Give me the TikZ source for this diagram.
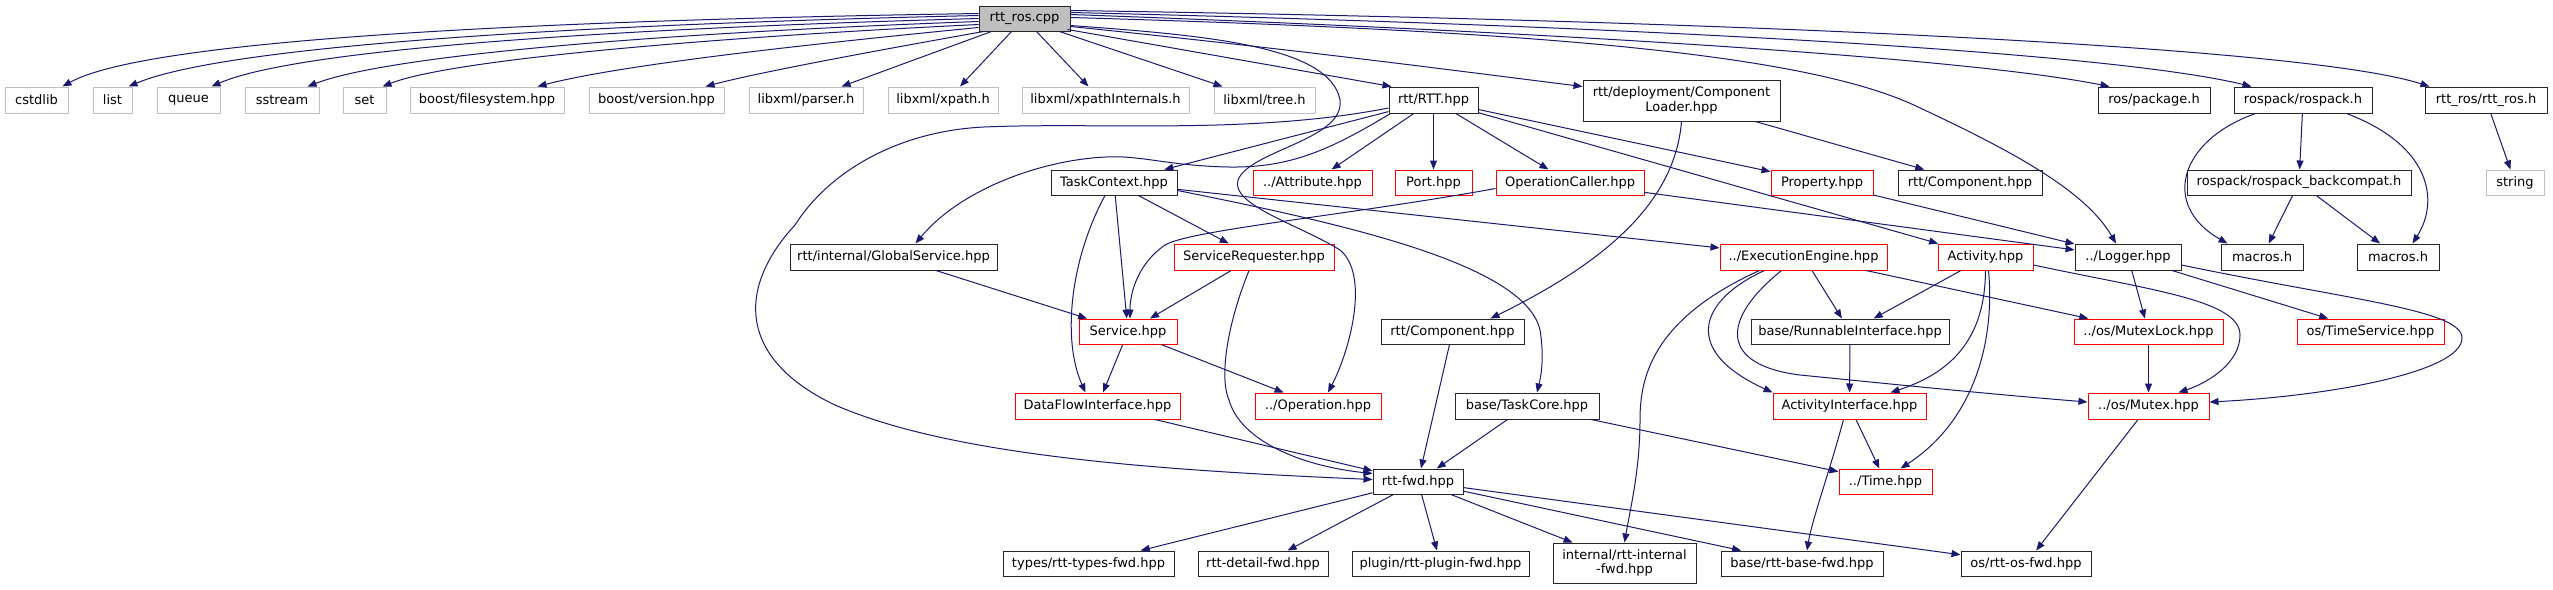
\documentclass[tikz,border=0pt]{standalone}
\usepackage{fontspec}
\setmainfont{DejaVu Sans}
\usetikzlibrary{arrows.meta,calc}
\definecolor{edgeblue}{HTML}{191970}
\definecolor{extgray}{HTML}{BFBFBF}
\definecolor{rootfill}{HTML}{BFBFBF}
\definecolor{truncred}{HTML}{FF0000}
\definecolor{docborder}{HTML}{262626}
\newcommand\mknode[7]{\node[#1, minimum width={#4-#3}, minimum height={#6-#5}] (#2) at ({(#3+#4)/2},{(#5+#6)/2}) {#7};}
\begin{document}
\begin{tikzpicture}[x=1pt,y=-1pt,
  basenode/.style={rectangle, inner sep=0pt, line width=1pt, fill=white, font=\fontsize{13}{14.3}\selectfont, align=center},
  gnode/.style={basenode, draw=extgray},
  rnode/.style={basenode, draw=truncred},
  knode/.style={basenode, draw=docborder},
  rootnode/.style={basenode, draw=docborder, fill=rootfill},
  e/.style={draw=edgeblue, line width=1pt, -{Triangle[length=9pt,width=7pt]}}]
\fill[white] (0,0) rectangle (2553,589);
\useasboundingbox (0,0) rectangle (2553,589);
% row 0
\mknode{rootnode}{root}{979}{1070}{6}{31}{rtt\_ros.cpp}
% row 1
\mknode{gnode}{cstdlib}{5}{68}{87}{113}{cstdlib}
\mknode{gnode}{list}{93}{132}{87}{113}{list}
\mknode{gnode}{queue}{157}{220}{87}{113}{queue}
\mknode{gnode}{sstream}{245}{319}{87}{113}{sstream}
\mknode{gnode}{set}{343}{386}{87}{113}{set}
\mknode{gnode}{bfs}{410}{564}{87}{113}{boost/filesystem.hpp}
\mknode{gnode}{bver}{589}{724}{87}{113}{boost/version.hpp}
\mknode{gnode}{parser}{749}{863}{87}{113}{libxml/parser.h}
\mknode{gnode}{xpath}{888}{998}{87}{113}{libxml/xpath.h}
\mknode{gnode}{xpathi}{1022}{1189}{87}{113}{libxml/xpathInternals.h}
\mknode{gnode}{tree}{1214}{1315}{87}{113}{libxml/tree.h}
\mknode{knode}{rtt}{1389}{1478}{87}{113}{rtt/RTT.hpp}
\mknode{knode}{loader}{1583}{1780}{80}{121}{rtt/deployment/Component\\Loader.hpp}
\mknode{knode}{pkg}{2098}{2210}{87}{113}{ros/package.h}
\mknode{knode}{rospack}{2234}{2372}{87}{113}{rospack/rospack.h}
\mknode{knode}{rttrosh}{2425}{2547}{87}{113}{rtt\_ros/rtt\_ros.h}
% row 2
\mknode{knode}{tc}{1051}{1177}{170}{195}{TaskContext.hpp}
\mknode{rnode}{attr}{1253}{1372}{170}{195}{../Attribute.hpp}
\mknode{rnode}{port}{1395}{1472}{170}{195}{Port.hpp}
\mknode{rnode}{opc}{1496}{1644}{170}{195}{OperationCaller.hpp}
\mknode{rnode}{prop}{1771}{1873}{170}{195}{Property.hpp}
\mknode{knode}{comp1}{1898}{2042}{170}{195}{rtt/Component.hpp}
\mknode{knode}{backcompat}{2187}{2411}{170}{195}{rospack/rospack\_backcompat.h}
\mknode{gnode}{string}{2486}{2544}{170}{195}{string}
% row 3
\mknode{knode}{gs}{790}{997}{244}{270}{rtt/internal/GlobalService.hpp}
\mknode{rnode}{sreq}{1174}{1334}{244}{270}{ServiceRequester.hpp}
\mknode{rnode}{ee}{1720}{1887}{244}{270}{../ExecutionEngine.hpp}
\mknode{rnode}{act}{1938}{2033}{244}{270}{Activity.hpp}
\mknode{knode}{logger}{2075}{2181}{244}{270}{../Logger.hpp}
\mknode{knode}{macros1}{2221}{2303}{244}{270}{macros.h}
\mknode{knode}{macros2}{2357}{2439}{244}{270}{macros.h}
% row 4
\mknode{rnode}{svc}{1079}{1177}{319}{344}{Service.hpp}
\mknode{knode}{comp2}{1381}{1524}{319}{344}{rtt/Component.hpp}
\mknode{knode}{runnable}{1751}{1949}{319}{344}{base/RunnableInterface.hpp}
\mknode{rnode}{mlock}{2074}{2223}{319}{344}{../os/MutexLock.hpp}
\mknode{rnode}{tsvc}{2297}{2444}{319}{344}{os/TimeService.hpp}
% row 5
\mknode{rnode}{dfi}{1015}{1180}{393}{419}{DataFlowInterface.hpp}
\mknode{rnode}{op}{1255}{1381}{393}{419}{../Operation.hpp}
\mknode{knode}{taskcore}{1455}{1599}{393}{419}{base/TaskCore.hpp}
\mknode{rnode}{ai}{1773}{1926}{393}{419}{ActivityInterface.hpp}
\mknode{rnode}{mutex}{2088}{2209}{393}{419}{../os/Mutex.hpp}
% row 6
\mknode{knode}{fwd}{1373}{1463}{469}{494}{rtt-fwd.hpp}
\mknode{rnode}{time}{1839}{1932}{469}{494}{../Time.hpp}
% row 7
\mknode{knode}{types}{1003}{1174}{551}{576}{types/rtt-types-fwd.hpp}
\mknode{knode}{detail}{1198}{1328}{551}{576}{rtt-detail-fwd.hpp}
\mknode{knode}{plugin}{1352}{1529}{551}{576}{plugin/rtt-plugin-fwd.hpp}
\mknode{knode}{internal}{1553}{1696}{543}{583}{internal/rtt-internal\\-fwd.hpp}
\mknode{knode}{basefwd}{1721}{1883}{551}{576}{base/rtt-base-fwd.hpp}
\mknode{knode}{osfwd}{1961}{2091}{551}{576}{os/rtt-os-fwd.hpp}

% ---- edges from rtt_ros.cpp, left fan
\draw[e] ($(root.west)+(0,-5)$) .. controls (560,20) and (150,38) .. ($(cstdlib.north east)+(-6,0)$);
\draw[e] ($(root.west)+(0,-3)$) .. controls (600,24) and (230,44) .. ($(list.north east)+(-4,0)$);
\draw[e] ($(root.west)+(0,0)$) .. controls (630,28) and (300,48) .. ($(queue.north east)+(-9,0)$);
\draw[e] ($(root.west)+(0,3)$) .. controls (660,33) and (390,55) .. ($(sstream.north east)+(-12,0)$);
\draw[e] ($(root.west)+(0,6)$) .. controls (700,38) and (450,60) .. ($(set.north east)+(-4,0)$);
\draw[e] ($(root.west)+(0,9)$) .. controls (800,45) and (620,65) .. ($(bfs.north east)+(-27,0)$);
\draw[e] ($(root.south west)+(5,0)$) .. controls (880,50) and (760,72) .. ($(bver.north east)+(-19,0)$);
\draw[e] ($(root.south west)+(13,0)$) -- ($(parser.north east)+(-22,0)$);
\draw[e] ($(root.south west)+(33,0)$) -- ($(xpath.north)+(17,0)$);
\draw[e] ($(root.south)+(12,0)$) -- ($(xpathi.north)+(-17,0)$);
\draw[e] ($(root.south east)+(-11,0)$) -- ($(tree.north west)+(9,0)$);
\draw[e] ($(root.south east)+(-3,-2)$) -- ($(rtt.north west)+(3,0)$);
% right fan
\draw[e] ($(root.east)+(0,8)$) .. controls (1300,50) and (1450,70) .. ($(loader.west)+(0,-14)$);
\draw[e] ($(root.east)+(0,-4)$) .. controls (1500,30) and (1950,55) .. ($(pkg.north west)+(12,0)$);
\draw[e] ($(root.east)+(0,-6)$) .. controls (1600,25) and (2100,50) .. ($(rospack.north west)+(18,0)$);
\draw[e] ($(root.east)+(0,-8)$) .. controls (1700,20) and (2300,45) .. ($(rttrosh.north west)+(5,0)$);
\draw[e] ($(root.east)+(0,-1)$) .. controls (1500,30) and (1800,50) .. (1918,107) .. controls (2010,150) and (2085,190) .. ($(logger.north)+(-12,0)$);
\draw[e] ($(root.east)+(0,7)$) .. controls (1200,35) and (1330,45) .. (1340,100) .. controls (1345,140) and (1250,150) .. (1238,180) .. controls (1230,205) and (1300,225) .. (1340,250) .. controls (1370,275) and (1350,350) .. ($(op.north)+(10,0)$);

% ---- RTT.hpp
\draw[e] (rtt) -- (tc);
\draw[e] (rtt) -- (attr);
\draw[e] (rtt) -- (port);
\draw[e] (rtt) -- (opc);
\draw[e] (rtt) -- (prop);
\draw[e] (rtt) -- (act);
\draw[e] ($(rtt.south west)+(2,0)$) .. controls (1330,150) and (1290,168) .. (1229,167) .. controls (1170,166) and (1140,155) .. (1106,157) .. controls (1040,160) and (960,190) .. ($(gs.north)+(22,0)$);
\draw[e] ($(rtt.west)+(0,8)$) .. controls (1250,135) and (1100,122) .. (984,127) .. controls (900,131) and (830,170) .. (795,225) .. controls (735,290) and (740,360) .. (835,405) .. controls (950,455) and (1150,470) .. ($(fwd.west)+(0,-2)$);

% ---- TaskContext.hpp
\draw[e] ($(tc.south)+(-9,0)$) .. controls (1070,260) and (1062,340) .. ($(dfi.north)+(-12,0)$);
\draw[e] (tc) -- (svc);
\draw[e] (tc) -- (sreq);
\draw[e] (tc) -- (ee);
\draw[e] ($(tc.east)+(0,8)$) .. controls (1350,225) and (1525,265) .. (1540,330) .. controls (1545,360) and (1540,380) .. ($(taskcore.north)+(10,0)$);

% ---- OperationCaller, Property, ComponentLoader
\draw[e] ($(opc.west)+(0,6)$) .. controls (1350,215) and (1190,230) .. (1165,245) .. controls (1140,262) and (1130,290) .. ($(svc.north)+(2,0)$);
\draw[e] (opc) -- (logger);
\draw[e] (prop) -- (logger);
\draw[e] (loader) -- (comp1);
\draw[e] (loader.south) .. controls (1675,200) and (1610,260) .. ($(comp2.north)+(38,0)$);
\draw[e] (comp2) -- (fwd);

% ---- services
\draw[e] (gs) -- (svc);
\draw[e] (sreq) -- (svc);
\draw[e] ($(sreq.south)+(-5,0)$) .. controls (1225,330) and (1220,380) .. (1229,400) .. controls (1240,440) and (1300,466) .. ($(fwd.north west)+(0,5)$);
\draw[e] (svc) -- (dfi);
\draw[e] (svc) -- (op);
\draw[e] (dfi) -- (fwd);
\draw[e] (taskcore) -- (fwd);
\draw[e] (taskcore) -- (time);

% ---- ExecutionEngine
\draw[e] (ee) -- (runnable);
\draw[e] (ee) -- (mlock);
\draw[e] ($(ee.south west)+(45,0)$) .. controls (1700,300) and (1680,350) .. (ai.north west);
\draw[e] ($(ee.south west)+(40,0)$) .. controls (1650,320) and (1640,380) .. (1640,420) .. controls (1640,470) and (1630,510) .. (internal.north);
\draw[e] ($(ee.south west)+(62,0)$) .. controls (1720,320) and (1720,365) .. (1800,375) .. controls (1900,385) and (2000,395) .. ($(mutex.west)+(0,-4)$);

% ---- Activity
\draw[e] (act) -- (runnable);
\draw[e] (act.south) .. controls (1985,330) and (1960,370) .. ($(ai.north east)+(-36,0)$);
\draw[e] ($(act.south)+(3,0)$) .. controls (1995,340) and (1975,420) .. ($(time.north)+(15,0)$);
\draw[e] ($(act.east)+(0,8)$) .. controls (2150,290) and (2240,300) .. (2240,335) .. controls (2240,362) and (2210,382) .. ($(mutex.north)+(30,0)$);

% ---- Logger
\draw[e] (logger) -- (mlock);
\draw[e] (logger) -- (tsvc);
\draw[e] ($(logger.east)+(0,8)$) .. controls (2350,300) and (2462,310) .. (2462,338) .. controls (2462,372) and (2330,396) .. ($(mutex.east)+(0,-4)$);

\draw[e] (mlock) -- (mutex);
\draw[e] (runnable) -- (ai);
\draw[e] (ai) -- (time);
\draw[e] ($(ai.south)+(-6,0)$) .. controls (1830,470) and (1812,520) .. ($(basefwd.north)+(5,0)$);
\draw[e] (mutex) -- (osfwd);

% ---- rtt-fwd.hpp
\draw[e] (fwd) -- (types);
\draw[e] (fwd) -- (detail);
\draw[e] (fwd) -- (plugin);
\draw[e] (fwd) -- (internal);
\draw[e] (fwd) -- (basefwd);
\draw[e] (fwd) -- (osfwd);

% ---- rospack
\draw[e] (rospack) -- (backcompat);
\draw[e] ($(rospack.south west)+(22,0)$) .. controls (2180,140) and (2160,205) .. ($(macros1.north west)+(7,0)$);
\draw[e] ($(rospack.south east)+(-26,0)$) .. controls (2430,145) and (2440,200) .. ($(macros2.north east)+(-27,0)$);
\draw[e] (backcompat) -- (macros1);
\draw[e] (backcompat) -- (macros2);
\draw[e] (rttrosh) -- (string);
\end{tikzpicture}
\end{document}
